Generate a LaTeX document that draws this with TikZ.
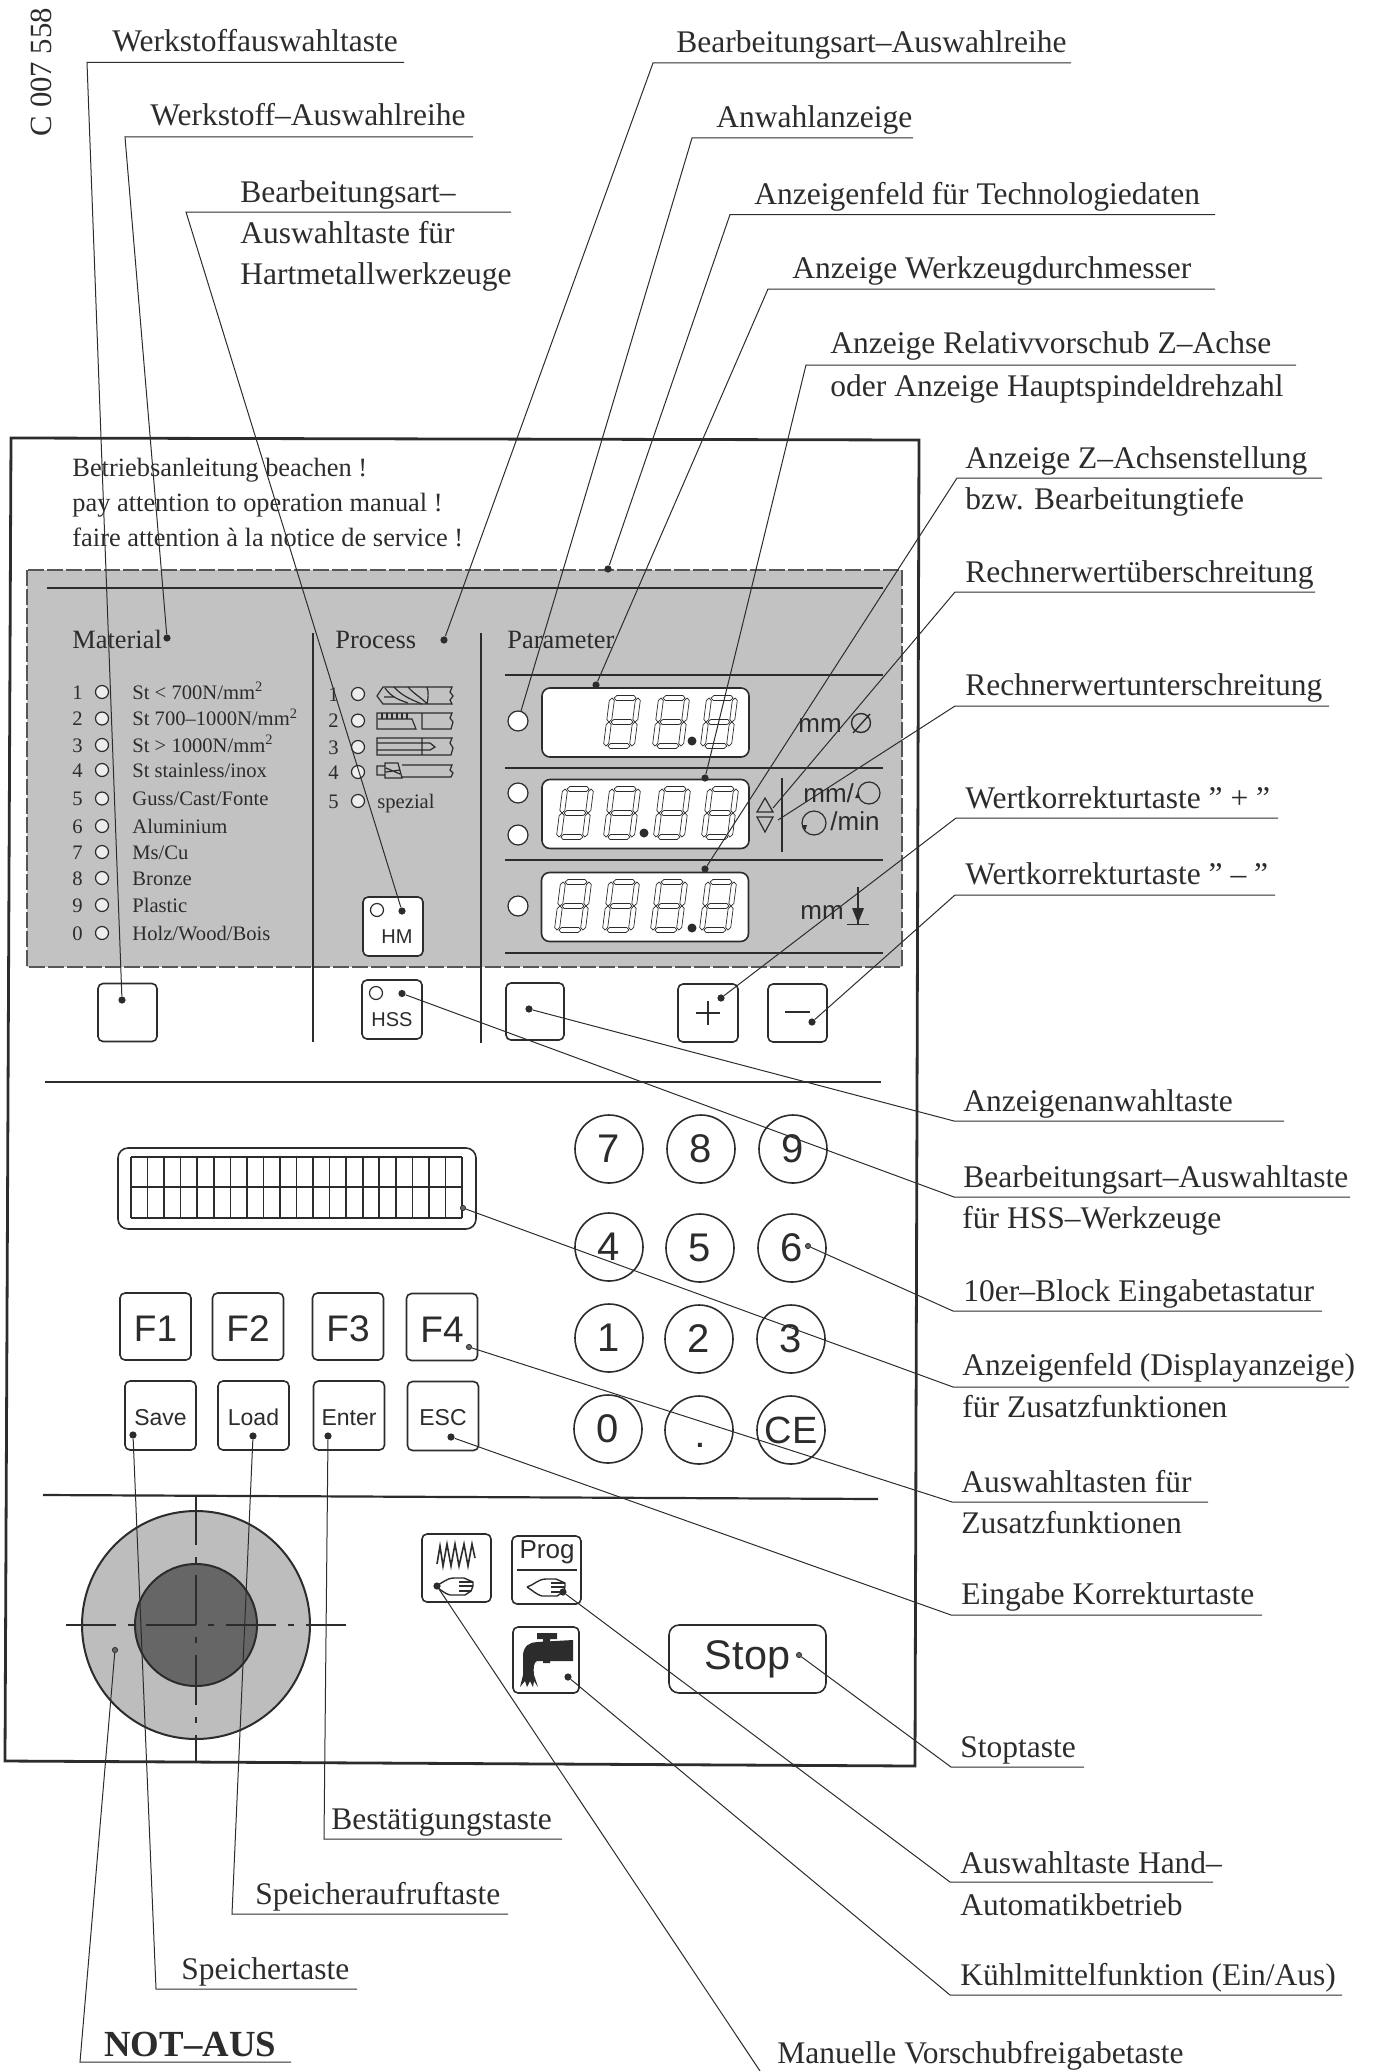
\documentclass[tikz,border=0pt]{standalone}
\usepackage{fontspec}
\setmainfont{Liberation Serif}
\newfontfamily\keyfont{Liberation Sans}
\definecolor{ink}{HTML}{2C2C2C}
\definecolor{panelgrey}{HTML}{C2C2C2}
\definecolor{knobgrey}{HTML}{BDBDBD}
\definecolor{knobdark}{HTML}{666666}
\definecolor{ledfill}{HTML}{EDEDED}
\newcommand{\hseg}[1]{\draw[segline] (-11,#1) -- (-8.5,#1-2.5) -- (8.5,#1-2.5) -- (11,#1) -- (8.5,#1+2.5) -- (-8.5,#1+2.5) -- cycle;}
\newcommand{\vseg}[3]{\draw[segline] (#1,#2) -- (#1+2.5,#2+2.5) -- (#1+2.5,#3-2.5) -- (#1,#3) -- (#1-2.5,#3-2.5) -- (#1-2.5,#2+2.5) -- cycle;}
\newcommand{\pointer}[5]{\coordinate (#1k) at (#2,#3); \coordinate (#1e) at (#4,#3); \draw[leadline] (#1e) -- (#1k) -- (#5);}
\tikzset{
  lab/.style={anchor=base west,inner sep=0pt,text=ink,font=\fontsize{15.75}{18}\selectfont},
  paneltext/.style={anchor=base west,inner sep=0pt,text=ink,font=\fontsize{13.2}{16}\selectfont},
  rowtext/.style={anchor=base west,inner sep=0pt,text=ink,font=\fontsize{10.3}{12}\selectfont},
  unittext/.style={anchor=base west,inner sep=0pt,text=ink,font=\keyfont\fontsize{13}{15}\selectfont},
  leadline/.style={draw=ink,line width=0.5pt},
  segline/.style={draw=ink,line width=0.35pt},
  toolline/.style={draw=ink,line width=0.6pt},
  sepline/.style={draw=ink,line width=1.1pt},
  keybox/.style={draw=ink,line width=0.8pt,rounded corners=2.5pt,inner sep=0pt,fill=white,text=ink},
  fkey/.style={keybox,minimum width=35.5pt,minimum height=33.5pt,text height=15pt,font=\keyfont\fontsize{18.5}{20}\selectfont},
  skey/.style={keybox,minimum width=35.5pt,minimum height=34.5pt,text height=10pt,font=\keyfont\fontsize{11.5}{13}\selectfont},
  sqkey/.style={keybox,minimum width=30pt,minimum height=29pt},
  iconkey/.style={keybox,minimum width=34pt,minimum height=34pt},
  display/.style={keybox,rounded corners=4pt,minimum width=103.5pt,minimum height=34.5pt},
  numkey/.style={circle,draw=ink,line width=0.8pt,inner sep=0pt,minimum size=34pt,text=ink,font=\keyfont\fontsize{20}{22}\selectfont},
  bigled/.style={circle,draw=ink,line width=0.6pt,fill=white,inner sep=0pt,minimum size=10pt},
  smallled/.style={circle,draw=ink,line width=0.6pt,fill=ledfill,inner sep=0pt,minimum size=6.5pt},
  pdot/.style={circle,fill=ink,inner sep=0pt,minimum size=3.6pt},
  tinydot/.style={circle,draw=ink,fill=knobdark,line width=0.4pt,inner sep=0pt,minimum size=2.6pt},
  segdigit/.pic={
    \begin{scope}[xslant=0.13]
    \hseg{-24}\hseg{0}\hseg{24}
    \vseg{-13}{-24}{0}\vseg{13}{-24}{0}\vseg{-13}{0}{24}\vseg{13}{0}{24}
    \end{scope}},
  handicon/.pic={
    \draw[toolline,line width=0.7pt] (-19,0) .. controls (-12,-2) and (-8,-8) .. (0,-8) -- (10,-8) -- (19,-4) -- (19,0) -- (17,5) -- (11,9) -- (-4,9) .. controls (-9,8) and (-14,3) .. (-19,0);
    \draw[toolline,line width=1pt] (5,-4) -- (19,-4) (5,0) -- (19,0) (5,5) -- (17,5);}
}
\begin{document}
\begin{tikzpicture}[x=0.5pt,y=-0.5pt,>=latex]
\useasboundingbox (0,0) rectangle (1375,2071);

\fill[panelgrey] (27,570) rectangle (902,967);
\draw[ink!80,line width=0.7pt,dash pattern=on 8pt off 1.5pt] (27,570) rectangle (902,967);
\draw[draw=ink,line width=1.4pt] (11,438) -- (919,440) -- (915,1766) -- (5,1761) -- cycle;

\node[paneltext] (warnde) at (72,476) {Betriebsanleitung beachen !};
\node[paneltext] (warnen) at (72,511) {pay attention to operation manual !};
\node[paneltext] (warnfr) at (72,546) {faire attention à la notice de service !};
\node[rotate=90,anchor=base,inner sep=0pt,text=ink,font=\fontsize{15.4}{18}\selectfont] (docnum) at (51,72) {C 007 558};

\draw[sepline] (47,588) -- (883,588);
\draw[sepline] (313,633) -- (313,1042);
\draw[sepline] (481,633) -- (481,1043);
\draw[sepline] (505,675) -- (883,675);
\draw[sepline,line width=0.9pt] (505,768) -- (883,768);
\draw[sepline,line width=0.9pt] (505,860) -- (883,860);
\draw[sepline] (505,953) -- (883,953);
\draw[sepline] (45,1082) -- (881,1082);
\draw[sepline] (43,1495) -- (878,1499);

\node[paneltext] (headmat) at (72,648) {Material};
\node[paneltext] (headproc) at (335,648) {Process};
\node[paneltext] (headpar) at (507,648) {Parameter};

\foreach \num/\ypos/\txt in {1/692/{St < 700N/mm\textsuperscript{2}},2/718.5/{St 700–1000N/mm\textsuperscript{2}},3/745/{St > 1000N/mm\textsuperscript{2}},4/770/{St stainless/inox},5/798.5/{Guss/Cast/Fonte},6/826/{Aluminium},7/852/{Ms/Cu},8/878/{Bronze},9/905/{Plastic},0/933/{Holz/Wood/Bois}}{
  \node[rowtext] (matnum\num) at (72,\ypos+7) {\num};
  \node[smallled] (matled\num) at (102,\ypos) {};
  \node[rowtext] (mattxt\num) at (132,\ypos+7) {\txt};
}
\foreach \num/\ypos in {1/694,2/720.6,3/747,4/772,5/801}{
  \node[rowtext] (procnum\num) at (328,\ypos+7) {\num};
  \node[smallled] (procled\num) at (358,\ypos) {};
}
\node[rowtext] (procspez) at (377,808) {spezial};

\draw[toolline] (377,696) -- (383,687) -- (452,687) -- (450,692) -- (453,696) -- (450,700) -- (452,704) -- (383,704) -- cycle;
\draw[toolline] (385,688) .. controls (392,698) and (400,700) .. (408,703) (394,687) .. controls (402,696) and (412,700) .. (422,704) (408,687) .. controls (414,694) and (422,698) .. (427,704) (384,697) -- (395,697) (427,687) .. controls (429,692) and (428,700) .. (427,704);
\draw[toolline] (412,713) -- (377,713) -- (377,729) -- (416,729) -- (412,719) -- (378,719);
\foreach \xpos in {382,387,392,397,402,407} \draw[toolline] (\xpos,713) -- (\xpos,719);
\draw[toolline] (412,713) -- (452,713) -- (450,718) -- (453,722) -- (451,729) -- (422,729) -- (422,713);
\draw[toolline] (377,738) rectangle (422,755) (377,743) -- (430,743) (377,750) -- (430,750) (422,738) -- (452,738) -- (450,743) -- (453,748) -- (451,755) -- (422,755) (430,743) -- (435,747) -- (430,750);
\draw[toolline] (385,766) -- (377,766) -- (377,775) -- (385,775) (385,763) -- (398,763) -- (402,778) -- (385,778) -- cycle (386,768) -- (400,774) (386,772) -- (400,770) (402,765) -- (452,765) -- (450,770) -- (453,773) -- (451,777) -- (402,777);

\node[sqkey,minimum width=29.5pt] (keymat) at (127.5,1012.5) {};
\node[sqkey,minimum width=30pt,minimum height=29.5pt] (keyhm) at (393,926.5) {};
\node[smallled,fill=white] (ledhm) at (377,910) {};
\node[anchor=center,inner sep=0pt,text=ink,font=\keyfont\fontsize{10}{12}\selectfont] (txthm) at (397,937) {HM};
\node[sqkey,minimum height=29.5pt] (keyhss) at (392,1009.5) {};
\node[smallled,fill=white] (ledhss) at (376,993) {};
\node[anchor=center,inner sep=0pt,text=ink,font=\keyfont\fontsize{10}{12}\selectfont] (txthss) at (392,1020) {HSS};

\node[display] (disptop) at (645.5,722.5) {};
\node[display] (dispmid) at (645.5,814) {};
\node[display] (displow) at (645,907) {};
\node[bigled] (ledtop) at (518,721) {};
\node[bigled] (ledmida) at (518,793) {};
\node[bigled] (ledmidb) at (518,835) {};
\node[bigled] (ledlow) at (518,906) {};
\foreach \xpos in {622,671,719} \pic at (\xpos,722) {segdigit};
\foreach \xpos in {575,622,672,720} \pic at (\xpos,813) {segdigit};
\foreach \xpos in {573,621,669,718} \pic at (\xpos,906) {segdigit};
\node[pdot,minimum size=4.5pt] (pointtop) at (692,741) {};
\node[pdot,minimum size=4.5pt] (pointmid) at (644,833) {};
\node[pdot,minimum size=4.5pt] (pointlow) at (692,928) {};

\draw[toolline] (765,798) -- (773,812) -- (757,812) -- cycle;
\draw[toolline] (757,817) -- (773,817) -- (765,832) -- cycle;
\draw[sepline,line width=0.9pt] (782,778) -- (782,852);
\coordinate (trianup) at (773,808);
\coordinate (triandown) at (778,820);

\node[unittext] (unitdia) at (798,732) {mm};
\draw[segline,line width=0.7pt] (861,723) circle (9.5) (853,733) -- (870,714);
\node[unittext] (unitfeed) at (803,802) {mm/};
\draw[toolline] (869,793) circle (11);
\fill[ink] (855,798) -- (860,798) -- (858,792) -- cycle;
\draw[toolline] (814,823) circle (12);
\fill[ink] (802,825) -- (807,825) -- (805,831) -- cycle;
\node[unittext] (unitmin) at (830,830) {/min};
\node[unittext] (unitdepth) at (800,919) {mm};
\draw[sepline,line width=0.8pt] (858,887) -- (858,924) (847,924.5) -- (869,924.5);
\fill[ink] (852,908) -- (864,908) -- (858,923) -- cycle;

\node[sqkey,minimum width=29pt,minimum height=28.5pt] (keyanw) at (535,1011.5) {};
\node[sqkey,minimum height=29pt] (keyplus) at (708,1013) {};
\node[sqkey,minimum width=29.5pt,minimum height=29pt] (keyminus) at (797.5,1013) {};
\draw[draw=ink,line width=1.1pt] (696,1013) -- (720,1013) (708,1001) -- (708,1025);
\draw[draw=ink,line width=1.3pt] (785,1012) -- (810,1012);

\node[keybox,rounded corners=5pt,minimum width=179pt,minimum height=40.5pt] (lcdbox) at (297,1188.5) {};
\foreach \col in {0,...,20} \draw[draw=ink,line width=0.8pt] (131+\col*16.55,1157) -- (131+\col*16.55,1218);
\draw[draw=ink,line width=0.8pt] (131,1157) -- (462,1157) (131,1187) -- (462,1187) (131,1218) -- (462,1218);

\node[fkey] (keyfa) at (155.5,1326.5) {F1};
\node[fkey] (keyfb) at (248,1326.5) {F2};
\node[fkey] (keyfc) at (348,1326.5) {F3};
\node[fkey] (keyfd) at (442,1327) {F4};
\node[skey] (keysave) at (160.5,1415.5) {Save};
\node[skey] (keyload) at (253.5,1415.5) {Load};
\node[skey] (keyenter) at (349,1415.5) {Enter};
\node[skey] (keyesc) at (443,1416) {ESC};

\foreach \name/\xpos/\ypos/\txt in {seven/609/1149/7,eight/701/1149/8,nine/793/1149/9,four/609/1247/4,five/700/1248/5,six/792/1248/6,one/609/1338/1,two/699/1339/2,three/791/1339/3,zero/608/1429/0,point/699/1430/,clear/791/1430/}{
  \node[numkey] (num\name) at (\xpos,\ypos) {\txt};
}
\node[inner sep=0pt,text=ink,font=\keyfont\fontsize{19}{21}\selectfont] (numcetext) at (791,1430) {CE};
\node[inner sep=0pt,text=ink,font=\keyfont\bfseries\fontsize{14}{16}\selectfont] (numpointtext) at (700,1445) {.};

\node[circle,draw=ink,line width=1pt,fill=knobgrey,inner sep=0pt,minimum size=114pt] (knobouter) at (196,1625) {};
\node[circle,draw=ink,line width=1pt,fill=knobdark,inner sep=0pt,minimum size=61pt] (knobinner) at (196,1625) {};
\draw[draw=ink,line width=0.7pt,dash pattern=on 25pt off 6pt on 3pt off 6pt] (66,1625) -- (346,1625);
\draw[draw=ink,line width=0.7pt,dash pattern=on 25pt off 6pt on 3pt off 6pt] (196,1495) -- (196,1761);

\node[iconkey,minimum width=34.5pt] (keyhand) at (456.5,1568) {};
\node[iconkey,minimum width=34.5pt] (keyprog) at (546.5,1570) {};
\node[iconkey,minimum width=33pt,minimum height=33pt] (keycool) at (546,1660) {};
\node[keybox,rounded corners=5pt,minimum width=78.5pt,minimum height=34pt,font=\keyfont\fontsize{20.7}{23}\selectfont] (keystop) at (747.5,1659) {Stop};
\draw[toolline,line width=0.8pt] (437,1564) -- (440,1546) -- (443,1566) -- (447,1544) -- (451,1566) -- (455,1544) -- (459,1566) -- (464,1544) -- (468,1566) -- (472,1544) -- (475,1558);
\pic at (454,1586) {handicon};
\pic at (546,1587) {handicon};
\node[inner sep=0pt,text=ink,font=\keyfont\fontsize{13}{15}\selectfont] (txtprog) at (547,1552) {Prog};
\draw[draw=ink,line width=1pt] (517,1569.5) -- (577,1569.5);
\fill[ink] (537,1633) rectangle (557,1639) (543,1639) rectangle (550,1642);
\fill[ink] (573,1640) -- (573,1661) -- (550,1661) -- (550,1663) -- (543,1663) -- (543,1661) -- (537,1661) .. controls (534,1662) and (533,1668) .. (534,1675) -- (538,1687) -- (534,1681) -- (533,1687) -- (530,1681) -- (527,1687) -- (525,1681) -- (520,1687) -- (523,1675) -- (523,1656) .. controls (523,1646) and (530,1642) .. (537,1642) -- cycle;

\node[pdot] (dotmatkey) at (122,1000) {};
\node[pdot] (dotmatrow) at (167,638) {};
\node[pdot] (dotproc) at (444,640) {};
\node[pdot] (dothm) at (402,911) {};
\node[pdot] (dothss) at (402,993.5) {};
\node[pdot] (dotfield) at (608,569) {};
\node[pdot] (dotdisptop) at (596,685) {};
\node[pdot] (dotdispmid) at (705,778) {};
\node[pdot] (dotdisplow) at (705,869) {};
\node[pdot] (dotplus) at (721,998) {};
\node[pdot] (dotminus) at (812,1022) {};
\node[pdot] (dotanw) at (529,1009) {};
\node[tinydot] (dotsix) at (808,1246) {};
\node[tinydot] (dotlcd) at (463,1208) {};
\node[tinydot] (dotfd) at (469,1347) {};
\node[pdot] (dotesc) at (451,1437) {};
\node[pdot] (dotenter) at (328,1436) {};
\node[pdot] (dotload) at (253,1436) {};
\node[pdot] (dotsave) at (133,1435) {};
\node[tinydot] (dotknob) at (115,1650) {};
\node[pdot] (dothand) at (437,1586) {};
\node[pdot] (dotprog) at (563,1592) {};
\node[pdot] (dotcool) at (568,1677) {};
\node[tinydot] (dotstop) at (799,1655) {};
\coordinate (manend) at (760,2071);

\node[lab] (labmatkey) at (112,52) {Werkstoffauswahltaste};
\node[lab] (labmatrow) at (150,126) {Werkstoff–Auswahlreihe};
\node[lab] (labhma) at (240,202) {Bearbeitungsart–};
\node[lab] (labhmb) at (240,243) {Auswahltaste für};
\node[lab] (labhmc) at (240,284) {Hartmetallwerkzeuge};
\node[lab] (labproc) at (676,53) {Bearbeitungsart–Auswahlreihe};
\node[lab] (labanw) at (716,127) {Anwahlanzeige};
\node[lab] (labfield) at (754,204) {Anzeigenfeld für Technologiedaten};
\node[lab] (labdia) at (792,278) {Anzeige Werkzeugdurchmesser};
\node[lab] (labfeeda) at (830,353) {Anzeige Relativvorschub Z–Achse};
\node[lab] (labfeedb) at (830,396) {oder Anzeige Hauptspindeldrehzahl};
\node[lab] (labza) at (965,468) {Anzeige Z–Achsenstellung};
\node[lab] (labzb) at (965,509) {bzw. Bearbeitungtiefe};
\node[lab] (labover) at (965,582) {Rechnerwertüberschreitung};
\node[lab] (labunder) at (965,695) {Rechnerwertunterschreitung};
\node[lab] (labplus) at (965,808) {Wertkorrekturtaste ” + ”};
\node[lab] (labminus) at (965,884) {Wertkorrekturtaste ” – ”};
\node[lab] (labsel) at (963,1111) {Anzeigenanwahltaste};
\node[lab] (labhssa) at (963,1187) {Bearbeitungsart–Auswahltaste};
\node[lab] (labhssb) at (962,1228) {für HSS–Werkzeuge};
\node[lab] (labblock) at (963,1301) {10er–Block Eingabetastatur};
\node[lab] (lablcda) at (962,1375) {Anzeigenfeld (Displayanzeige)};
\node[lab] (lablcdb) at (962,1417) {für Zusatzfunktionen};
\node[lab] (labfa) at (961,1492) {Auswahltasten für};
\node[lab] (labfb) at (961,1533) {Zusatzfunktionen};
\node[lab] (labesc) at (961,1604) {Eingabe Korrekturtaste};
\node[lab] (labstop) at (960,1757) {Stoptaste};
\node[lab] (labproga) at (960,1873) {Auswahltaste Hand–};
\node[lab] (labprogb) at (960,1915) {Automatikbetrieb};
\node[lab] (labcool) at (960,1985) {Kühlmittelfunktion (Ein/Aus)};
\node[lab] (labman) at (777,2063) {Manuelle Vorschubfreigabetaste};
\node[lab] (labenter) at (331,1829) {Bestätigungstaste};
\node[lab] (labload) at (255,1904) {Speicheraufruftaste};
\node[lab] (labsave) at (181,1979) {Speichertaste};
\node[lab,font=\bfseries\fontsize{18.4}{20}\selectfont] (labknob) at (104,2056) {NOT–AUS};

\pointer{matkey}{87}{62.5}{404}{dotmatkey}
\pointer{matrow}{125}{137}{473}{dotmatrow}
\pointer{hm}{186}{212}{511}{dothm}
\pointer{proc}{653}{63}{1071}{dotproc}
\pointer{anw}{692}{138}{913}{ledtop}
\pointer{field}{730}{214.5}{1215}{dotfield}
\pointer{dia}{768}{289}{1215}{dotdisptop}
\pointer{feed}{806}{365}{1296}{dotdispmid}
\pointer{zax}{957}{478}{1322}{dotdisplow}
\pointer{over}{955}{592}{1315}{trianup}
\pointer{under}{955}{706}{1329}{triandown}
\pointer{plus}{956}{818}{1278}{dotplus}
\pointer{minus}{955}{895}{1275}{dotminus}
\pointer{sel}{954}{1121}{1284}{dotanw}
\pointer{hss}{954}{1197}{1350}{dothss}
\pointer{block}{953}{1311}{1322}{dotsix}
\pointer{lcd}{953}{1387}{1349}{dotlcd}
\pointer{fkeys}{952}{1502}{1208}{dotfd}
\pointer{esc}{951}{1615}{1262}{dotesc}
\pointer{stop}{951}{1767}{1084}{dotstop}
\pointer{prog}{950}{1882}{1213}{dotprog}
\pointer{cool}{950}{1995}{1342}{dotcool}
\pointer{enter}{324}{1839}{562}{dotenter}
\pointer{load}{232}{1914}{508}{dotload}
\pointer{save}{156}{1989}{357}{dotsave}
\pointer{knob}{80}{2062}{291}{dotknob}
\draw[leadline] (dothand) -- (manend);
\end{tikzpicture}
\end{document}
